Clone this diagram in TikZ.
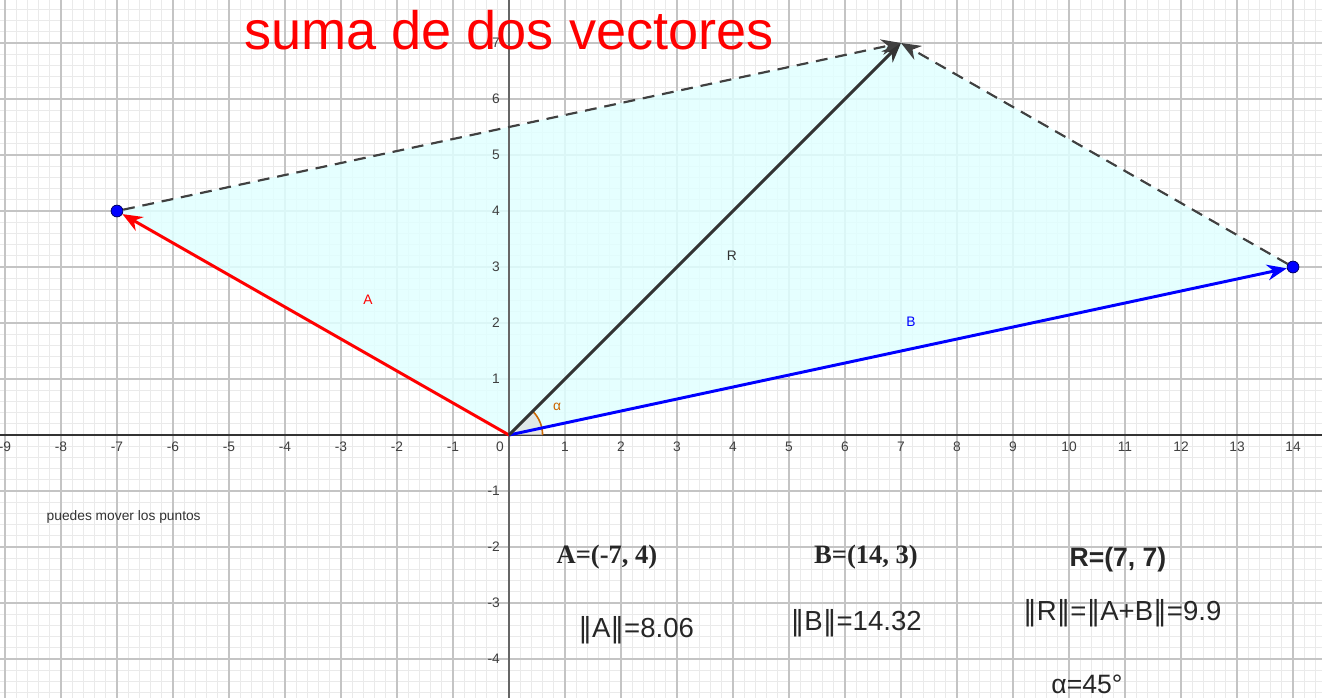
\documentclass[tikz,border=0pt]{standalone}
\usepackage{fontspec}
\setmainfont{Liberation Sans}
\newfontfamily\serifbold{Liberation Serif}
\newfontfamily\barras{DejaVu Sans}
\usetikzlibrary{arrows.meta}
\definecolor{relleno}{RGB}{224,255,255}
\definecolor{arco}{RGB}{204,102,0}
\definecolor{rejilla}{RGB}{196,196,196}
\definecolor{subrejilla}{RGB}{234,234,234}
\newcommand{\nrm}[1]{{\barras ‖}#1{\barras ‖}}
\tikzset{
  vector/.style={line width=1.5pt,-{Stealth[length=10pt,width=8pt]}},
  guia/.style={line width=1.1pt,black!75,dash pattern=on 6pt off 4pt,-{Stealth[length=10pt,width=8pt]}},
  punto/.style={circle,fill=blue,draw=blue!40!black,inner sep=0pt,minimum size=6pt},
  marca/.style={font=\fontsize{7}{8}\selectfont,text=black!75,inner sep=1pt},
  dato/.style={font=\fontsize{14}{16}\selectfont,text=black!85},
}
\begin{document}
\begin{tikzpicture}
\useasboundingbox (-9.089,-4.696) rectangle (14.518,7.768);
\clip (-9.089,-4.696) rectangle (14.518,7.768);
\draw[subrejilla,line width=0.4pt,step=0.2] (-9.2,-4.8) grid (14.6,7.8);
\draw[rejilla,line width=0.6pt,step=1] (-9.2,-4.8) grid (14.6,7.8);
\coordinate (O) at (0,0);
\coordinate (A) at (-7,4);
\coordinate (B) at (14,3);
\coordinate (R) at (7,7);
\fill[relleno,opacity=0.85] (O) -- (B) -- (R) -- (A) -- cycle;
\draw[black!80,line width=1pt] (-9.2,0) -- (14.6,0);
\draw[black!60,line width=0.8pt] (0,-4.8) -- (0,7.8);
\foreach \x in {-9,...,-1,1,2,...,14}
  \node[marca] at (\x,-0.21) {\x};
\foreach \y in {-4,...,-1,1,2,...,7}
  \node[marca,anchor=east] at (-0.12,\y) {\y};
\node[marca] at (-0.16,-0.21) {0};
\fill[gray!25,opacity=0.7] (O) -- (0.6,0) arc (0:45:0.6) -- cycle;
\draw[arco,line width=0.8pt] (0.6,0) arc (0:45:0.6);
\node[punto] (pA) at (A) {};
\node[punto] (pB) at (B) {};
\draw[vector,red] (O) -- (pA);
\draw[vector,blue] (O) -- (pB);
\draw[vector,black!80] (O) -- (R);
\draw[guia] (pA) -- (R);
\draw[guia] (pB) -- (R);
\node[red,font=\fontsize{7}{8}\selectfont] (etA) at (-2.52,2.41) {A};
\node[black!80,font=\fontsize{7}{8}\selectfont] (etR) at (3.98,3.2) {R};
\node[blue,font=\fontsize{7}{8}\selectfont] (etB) at (7.18,2.02) {B};
\node[arco,font=\fontsize{7}{8}\selectfont] (etalfa) at (0.86,0.5) {α};
\node[red,font=\fontsize{27.5}{30}\selectfont] (titulo) at (0,7.23) {suma de dos vectores};
\node[black!80,font=\fontsize{7}{8}\selectfont] (nota) at (-6.88,-1.46) {puedes mover los puntos};
\node[dato,font=\fontsize{13.5}{15}\serifbold\bfseries] (coordA) at (1.75,-2.18) {A=(-7, 4)};
\node[dato,font=\fontsize{13.5}{15}\serifbold\bfseries] (coordB) at (6.375,-2.18) {B=(14, 3)};
\node[dato,font=\fontsize{13.5}{15}\selectfont\bfseries] (coordR) at (10.875,-2.23) {R=(7, 7)};
\node[dato] (normA) at (2.27,-3.48) {\nrm{A}=8.06};
\node[dato] (normB) at (6.2,-3.36) {\nrm{B}=14.32};
\node[dato] (normR) at (10.95,-3.18) {\nrm{R}=\nrm{A+B}=9.9};
\node[dato,font=\fontsize{13.5}{15}\selectfont] (angulo) at (10.32,-4.46) {α=45°};
\end{tikzpicture}
\end{document}
